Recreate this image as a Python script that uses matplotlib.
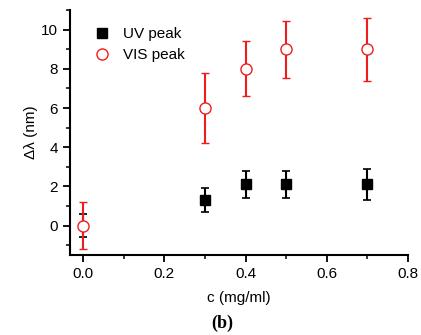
import numpy as np
import matplotlib
matplotlib.use("Agg")
from matplotlib import pyplot as plt
from matplotlib.lines import Line2D
from matplotlib.ticker import MultipleLocator

plt.rcParams['font.family'] = ['Liberation Sans', 'DejaVu Sans']

conc = [0.0, 0.3, 0.4, 0.5, 0.7]
uv_shift = [0.0, 1.3, 2.1, 2.1, 2.1]
uv_err = [0.6, 0.6, 0.7, 0.7, 0.8]
vis_shift = [0.0, 6.0, 8.0, 9.0, 9.0]
vis_err = [1.2, 1.8, 1.4, 1.45, 1.6]

red = '#ee1c1c'

fig = plt.figure(figsize=(4.21, 3.35), dpi=100)
ax = fig.add_axes([70/421, 1 - 255/335, (408 - 70)/421, (255 - 10)/335])

uv = ax.errorbar(conc, uv_shift, yerr=uv_err, fmt='s', color='black', ms=7,
                 elinewidth=1.5, capsize=3, capthick=1.2, zorder=3)
# the zero point sits under the open circle, only its error bar shows
uv[0].set_markevery([1, 2, 3, 4])
ax.errorbar(conc, vis_shift, yerr=vis_err, fmt='o', color=red, mfc='white',
            mec=red, mew=1.0, ms=8, elinewidth=1.5, capsize=3, capthick=1.2,
            zorder=4)

ax.set_xlim(-0.032, 0.8)
ax.set_ylim(-1.5, 11)
ax.xaxis.set_major_locator(MultipleLocator(0.2))
ax.xaxis.set_minor_locator(MultipleLocator(0.1))
ax.yaxis.set_major_locator(MultipleLocator(2))
ax.yaxis.set_minor_locator(MultipleLocator(1))
ax.xaxis.set_major_formatter(plt.FuncFormatter(lambda v, p: f"{v:.1f}"))

for side in ['top', 'right']:
    ax.spines[side].set_visible(False)
for side in ['left', 'bottom']:
    ax.spines[side].set_linewidth(1.5)
ax.tick_params(which='major', direction='out', length=5, width=1.3, labelsize=11)
ax.tick_params(which='minor', direction='out', length=3, width=1.1)

ax.set_xlabel('c (mg/ml)', fontsize=11, labelpad=7)
ax.set_ylabel('Δλ (nm)', fontsize=11, labelpad=2)

handles = [
    Line2D([], [], ls='none', marker='s', color='black', ms=7),
    Line2D([], [], ls='none', marker='o', mfc='white', mec=red, mew=1.0, ms=8),
]
ax.legend(handles, ['UV peak', 'VIS peak'], loc='upper left',
          bbox_to_anchor=(0.03, 0.985), frameon=False, fontsize=11,
          handletextpad=0.9, labelspacing=0.45, handlelength=1.0)

fig.text(222/421, 1 - 323/335, '(b)', fontsize=13, fontweight='bold',
         family='Liberation Serif', ha='center', va='center')

fig.savefig('out.png', dpi=100)
